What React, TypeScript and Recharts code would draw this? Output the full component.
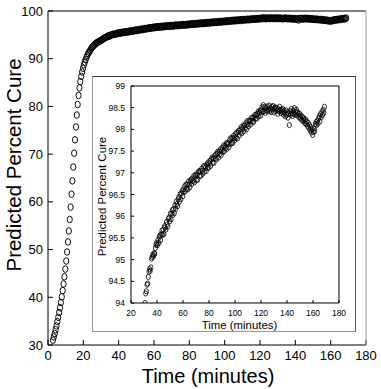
import { ScatterChart, Scatter, XAxis, YAxis } from "recharts";

// cure ramp, t = 2.8 .. 30.3 min
const rampTime = [
  2.8, 3.3, 3.8, 4.3, 4.8, 5.3, 5.8, 6.3, 6.8, 7.3,
  7.8, 8.3, 8.8, 9.3, 9.8, 10.3, 10.8, 11.3, 11.8, 12.3,
  12.8, 13.3, 13.8, 14.3, 14.8, 15.3, 15.8, 16.3, 16.8, 17.3,
  17.8, 18.3, 18.8, 19.3, 19.8, 20.3, 20.8, 21.3, 21.8, 22.3,
  22.8, 23.3, 23.8, 24.3, 24.8, 25.3, 25.8, 26.3, 26.8, 27.3,
  27.8, 28.3, 28.8, 29.3, 29.8, 30.3,
];
const rampCure = [
  31.0, 31.7, 32.4, 33.2, 34.0, 34.9, 35.8, 36.8, 37.8, 38.9,
  40.1, 41.4, 42.8, 44.3, 45.9, 47.6, 49.5, 51.6, 53.9, 56.3,
  58.9, 61.6, 64.4, 67.3, 70.2, 73.0, 75.7, 78.2, 80.4, 82.3,
  83.9, 85.2, 86.3, 87.2, 88.0, 88.7, 89.3, 89.8, 90.3, 90.7,
  91.1, 91.4, 91.7, 92.0, 92.3, 92.5, 92.7, 92.9, 93.1, 93.25,
  93.4, 93.5, 93.6, 93.7, 93.8, 93.88,
];

// slow rise, t = 30.8 .. 110.8 min
const riseTime = [
  30.8, 31.3, 31.8, 32.3, 32.8, 33.3, 33.8, 34.3, 34.8, 35.3,
  35.8, 36.3, 36.8, 37.3, 37.8, 38.3, 38.8, 39.3, 39.8, 40.3,
  40.8, 41.3, 41.8, 42.3, 42.8, 43.3, 43.8, 44.3, 44.8, 45.3,
  45.8, 46.3, 46.8, 47.3, 47.8, 48.3, 48.8, 49.3, 49.8, 50.3,
  50.8, 51.3, 51.8, 52.3, 52.8, 53.3, 53.8, 54.3, 54.8, 55.3,
  55.8, 56.3, 56.8, 57.3, 57.8, 58.3, 58.8, 59.3, 59.8, 60.3,
  60.8, 61.3, 61.8, 62.3, 62.8, 63.3, 63.8, 64.3, 64.8, 65.3,
  65.8, 66.3, 66.8, 67.3, 67.8, 68.3, 68.8, 69.3, 69.8, 70.3,
  70.8, 71.3, 71.8, 72.3, 72.8, 73.3, 73.8, 74.3, 74.8, 75.3,
  75.8, 76.3, 76.8, 77.3, 77.8, 78.3, 78.8, 79.3, 79.8, 80.3,
  80.8, 81.3, 81.8, 82.3, 82.8, 83.3, 83.8, 84.3, 84.8, 85.3,
  85.8, 86.3, 86.8, 87.3, 87.8, 88.3, 88.8, 89.3, 89.8, 90.3,
  90.8, 91.3, 91.8, 92.3, 92.8, 93.3, 93.8, 94.3, 94.8, 95.3,
  95.8, 96.3, 96.8, 97.3, 97.8, 98.3, 98.8, 99.3, 99.8, 100.3,
  100.8, 101.3, 101.8, 102.3, 102.8, 103.3, 103.8, 104.3, 104.8, 105.3,
  105.8, 106.3, 106.8, 107.3, 107.8, 108.3, 108.8, 109.3, 109.8, 110.3,
  110.8,
];
const riseCure = [
  94.0, 94.22, 94.27, 94.42, 94.45, 94.6, 94.72, 94.78, 94.74, 94.82,
  95.02, 95.06, 95.12, 95.08, 95.15, 95.13, 95.27, 95.34, 95.38, 95.33,
  95.45, 95.38, 95.52, 95.56, 95.45, 95.58, 95.67, 95.57, 95.69, 95.59,
  95.77, 95.74, 95.69, 95.87, 95.81, 95.76, 95.94, 95.97, 95.88, 96.06,
  95.93, 96.06, 96.14, 96.03, 96.17, 96.07, 96.25, 96.17, 96.34, 96.28,
  96.23, 96.39, 96.44, 96.34, 96.51, 96.39, 96.52, 96.58, 96.46, 96.62,
  96.56, 96.69, 96.58, 96.73, 96.63, 96.73, 96.62, 96.8, 96.74, 96.67,
  96.82, 96.85, 96.74, 96.87, 96.81, 96.93, 96.78, 96.9, 96.96, 96.83,
  96.96, 96.84, 97.01, 97.04, 96.93, 97.04, 96.93, 97.09, 97.04, 96.98,
  97.15, 97.02, 97.16, 97.12, 97.04, 97.19, 97.11, 97.24, 97.12, 97.22,
  97.28, 97.16, 97.31, 97.35, 97.23, 97.33, 97.23, 97.39, 97.33, 97.43,
  97.31, 97.44, 97.49, 97.35, 97.49, 97.43, 97.54, 97.4, 97.51, 97.58,
  97.48, 97.63, 97.5, 97.62, 97.58, 97.68, 97.55, 97.69, 97.67, 97.59,
  97.75, 97.66, 97.8, 97.68, 97.8, 97.69, 97.85, 97.8, 97.75, 97.89,
  97.8, 97.93, 97.79, 97.93, 97.97, 97.86, 97.99, 97.93, 98.05, 97.91,
  98.03, 98.09, 97.96, 98.09, 98.03, 98.14, 98.0, 98.19, 98.12, 98.07,
  98.2,
];

// plateau, dip and recovery, t = 111.3 .. 168.8 min
const plateauTime = [
  111.3, 111.8, 112.3, 112.8, 113.3, 113.8, 114.3, 114.8, 115.3, 115.8,
  116.3, 116.8, 117.3, 117.8, 118.3, 118.8, 119.3, 119.8, 120.3, 120.8,
  121.3, 121.8, 122.3, 122.8, 123.3, 123.8, 124.3, 124.8, 125.3, 125.8,
  126.3, 126.8, 127.3, 127.8, 128.3, 128.8, 129.3, 129.8, 130.3, 130.8,
  131.3, 131.8, 132.3, 132.8, 133.3, 133.8, 134.3, 134.8, 135.3, 135.8,
  136.3, 136.8, 137.3, 137.8, 138.3, 138.8, 139.3, 139.8, 140.3, 140.8,
  141.3, 141.8, 142.3, 142.8, 143.3, 143.8, 144.3, 144.8, 145.3, 145.8,
  146.3, 146.8, 147.3, 147.8, 148.3, 148.8, 149.3, 149.8, 150.3, 150.8,
  151.3, 151.8, 152.3, 152.8, 153.3, 153.8, 154.3, 154.8, 155.3, 155.8,
  156.3, 156.8, 157.3, 157.8, 158.3, 158.8, 159.3, 159.8, 160.3, 160.8,
  161.3, 161.8, 162.3, 162.8, 163.3, 163.8, 164.3, 164.8, 165.3, 165.8,
  166.3, 166.8, 167.3, 167.8, 168.3, 168.8,
];
const plateauCure = [
  98.21, 98.11, 98.2, 98.27, 98.17, 98.27, 98.17, 98.28, 98.33, 98.25,
  98.34, 98.25, 98.36, 98.41, 98.3, 98.38, 98.44, 98.32, 98.44, 98.51,
  98.4, 98.56, 98.42, 98.52, 98.38, 98.5, 98.44, 98.53, 98.41, 98.47,
  98.55, 98.43, 98.49, 98.4, 98.52, 98.46, 98.54, 98.39, 98.48, 98.51,
  98.42, 98.5, 98.45, 98.36, 98.47, 98.42, 98.52, 98.44, 98.38, 98.46,
  98.4, 98.47, 98.34, 98.43, 98.38, 98.3, 98.44, 98.33, 98.39, 98.27,
  98.36, 98.1, 98.42, 98.34, 98.47, 98.38, 98.31, 98.44, 98.36, 98.49,
  98.34, 98.4, 98.45, 98.32, 98.39, 98.35, 98.28, 98.36, 98.25, 98.31,
  98.22, 98.29, 98.19, 98.26, 98.21, 98.14, 98.23, 98.12, 98.18, 98.08,
  98.15, 98.03, 98.1, 97.98, 98.05, 97.93, 98.0, 97.87, 97.94, 98.02,
  97.96, 98.12, 98.17, 98.1, 98.2, 98.14, 98.25, 98.3, 98.18, 98.35,
  98.28, 98.4, 98.33, 98.45, 98.38, 98.52,
];

const mainXTicks = [0, 20, 40, 60, 80, 100, 120, 140, 160, 180];
const mainYTicks = [30, 40, 50, 60, 70, 80, 90, 100];
const insetXTicks = [20, 40, 60, 80, 100, 120, 140, 160, 180];
const insetYTicks = [94, 94.5, 95, 95.5, 96, 96.5, 97, 97.5, 98, 98.5, 99];

const times = [...rampTime, ...riseTime, ...plateauTime];
const cures = [...rampCure, ...riseCure, ...plateauCure];
const points = times.map((t, i) => ({ t, cure: cures[i] }));
const insetPoints = points.filter((p) => p.t >= 30.5);

const FONT = '"Liberation Sans", Arial, Helvetica, sans-serif';

const bigRing = (p: any) => (
  <ellipse cx={p.cx} cy={p.cy} rx={2.6} ry={3.3} fill="none" stroke="#000" strokeWidth={0.95} />
);
const smallRing = (p: any) => (
  <ellipse cx={p.cx} cy={p.cy} rx={2.1} ry={2.6} fill="none" stroke="#000" strokeWidth={0.8} />
);

export default function App() {
  return (
    <div style={{ position: "absolute", left: 0, top: 0, width: 381, height: 389, background: "#fff", fontFamily: FONT }}>
      <ScatterChart width={381} height={389} margin={{ top: 10, right: 14, bottom: 0, left: 0 }}>
        <XAxis xAxisId="b" type="number" dataKey="t" domain={[0, 180]} ticks={mainXTicks} interval={0}
          allowDataOverflow height={44} tickSize={-5} tickMargin={11} stroke="#000"
          tick={{ fill: "#000", fontSize: 13 }} />
        <XAxis xAxisId="top" orientation="top" type="number" domain={[0, 180]} ticks={mainXTicks} interval={0}
          allowDataOverflow height={1} tickSize={-5} tick={false} stroke="#000" />
        <YAxis yAxisId="l" type="number" dataKey="cure" domain={[30, 100]} ticks={mainYTicks} interval={0}
          allowDataOverflow width={48} tickSize={-5} tickMargin={10} stroke="#000"
          tick={{ fill: "#000", fontSize: 13 }} />
        <YAxis yAxisId="r" orientation="right" type="number" domain={[30, 100]} ticks={mainYTicks} interval={0}
          allowDataOverflow width={1} tickSize={-5} tick={false} stroke="#999" />
        <Scatter xAxisId="b" yAxisId="l" data={points} shape={bigRing} isAnimationActive={false} />
      </ScatterChart>

      <div style={{
        position: "absolute", left: 92, top: 76, width: 264, height: 256, background: "#fff",
        boxSizing: "border-box", borderTop: "1px solid #333", borderRight: "1px solid #555",
        borderBottom: "1px solid #999", borderLeft: "1px solid #999",
      }}>
        <ScatterChart width={262} height={254} margin={{ top: 8, right: 15, bottom: 0, left: 0 }}>
          <XAxis xAxisId="b" type="number" dataKey="t" domain={[20, 180]} ticks={insetXTicks} interval={0}
            allowDataOverflow height={28} tickSize={-3} tickMargin={10} stroke="#000"
            tick={{ fill: "#000", fontSize: 8.5 }} />
          <XAxis xAxisId="top" orientation="top" type="number" domain={[20, 180]} ticks={insetXTicks} interval={0}
            allowDataOverflow height={1} tickSize={-3} tick={false} stroke="#000" />
          <YAxis yAxisId="l" type="number" dataKey="cure" domain={[94, 99]} ticks={insetYTicks} interval={0}
            allowDataOverflow width={38} tickSize={-3} tickMargin={9} stroke="#000"
            tick={{ fill: "#000", fontSize: 8.5 }} />
          <YAxis yAxisId="r" orientation="right" type="number" domain={[94, 99]} ticks={insetYTicks} interval={0}
            allowDataOverflow width={1} tickSize={-3} tick={false} stroke="#000" />
          <Scatter xAxisId="b" yAxisId="l" data={insetPoints} shape={smallRing} isAnimationActive={false} />
        </ScatterChart>
      </div>

      {/* axis titles */}
      <svg width={381} height={389} style={{ position: "absolute", left: 0, top: 0, pointerEvents: "none" }}>
        <text x={20.5} y={165} transform="rotate(-90 20.5 165)" textAnchor="middle" fontSize={20.5} fill="#000">
          Predicted Percent Cure
        </text>
        <text x={208} y={383} textAnchor="middle" fontSize={20} fill="#000">
          Time (minutes)
        </text>
        <text x={106} y={196.5} transform="rotate(-90 106 196.5)" textAnchor="middle" fontSize={11.5} fill="#000">
          Predicted Percent Cure
        </text>
        <text x={239.5} y={328.5} textAnchor="middle" fontSize={11.4} fill="#000">
          Time (minutes)
        </text>
      </svg>
    </div>
  );
}
